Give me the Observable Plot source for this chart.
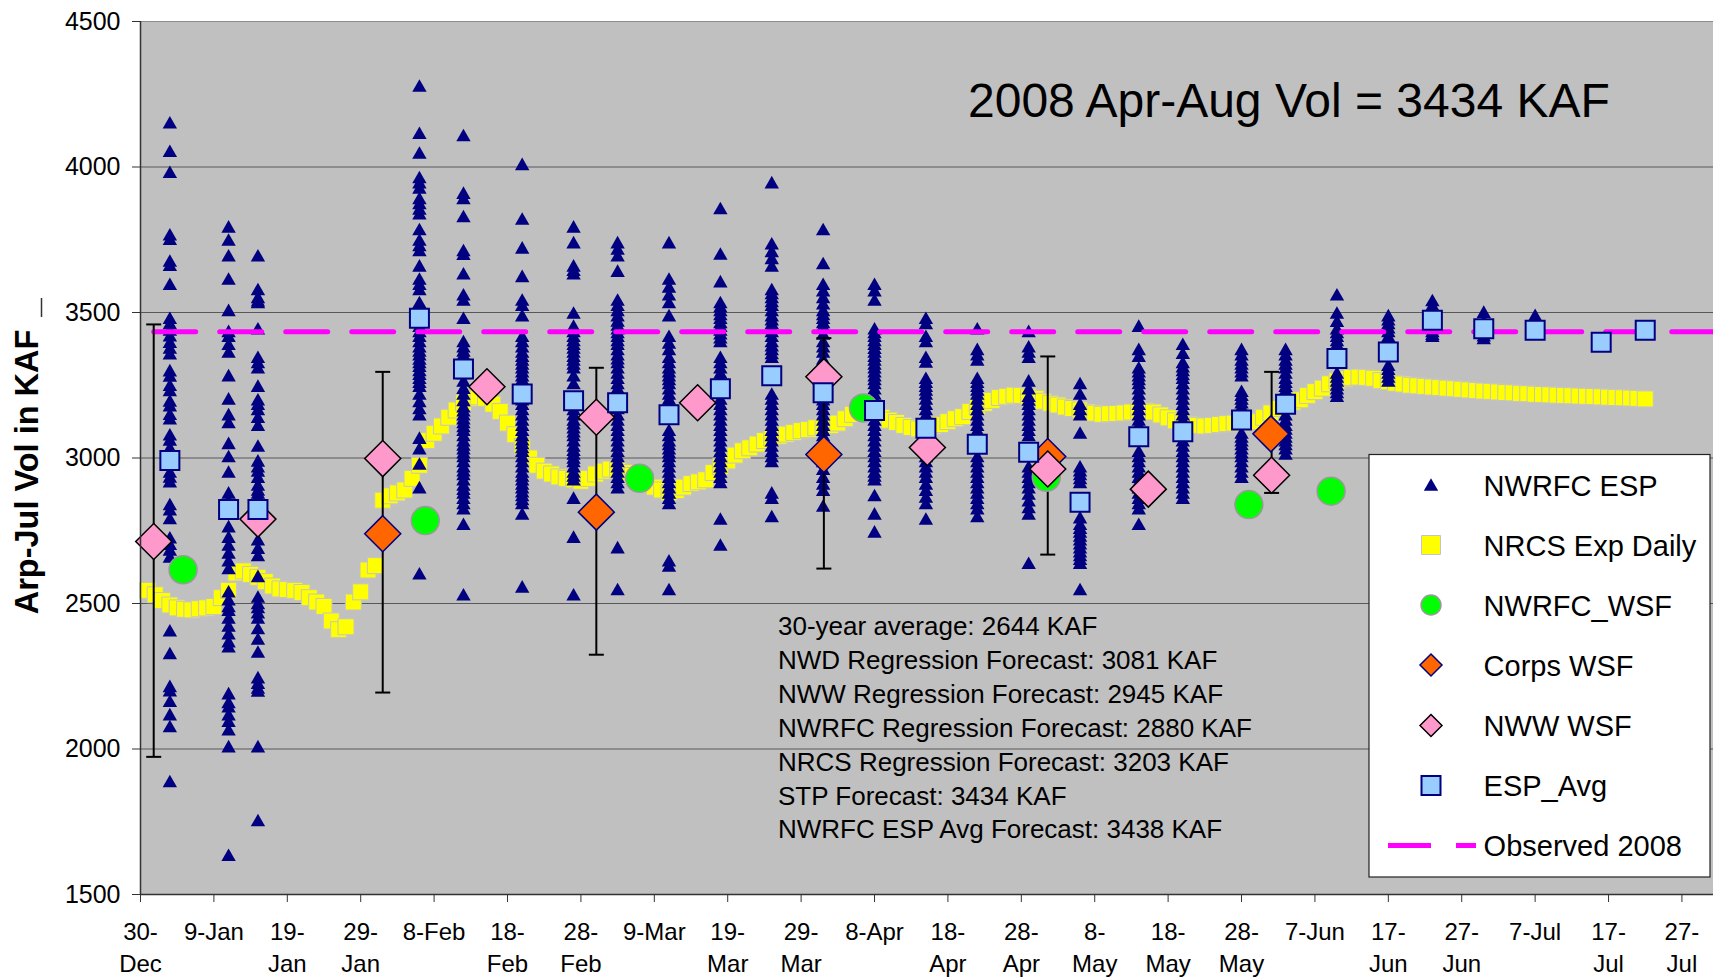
<!DOCTYPE html>
<html><head><meta charset="utf-8">
<script src="https://cdn.jsdelivr.net/npm/d3@7"></script>
<script src="https://cdn.jsdelivr.net/npm/@observablehq/plot@0.6"></script>
<style>body{margin:0;background:#fff;} #chart{width:1713px;height:979px;}</style>
</head><body><div id="chart"></div>
<script>
const FONT = "'Liberation Sans', Arial, Helvetica, sans-serif";

// ---- axis data ----
const tickDays = [0,10,20,30,40,50,60,70,80,90,100,110,120,130,140,150,160,170,180,190,200,210];
const tickLabels = ["30-\nDec","9-Jan","19-\nJan","29-\nJan","8-Feb","18-\nFeb","28-\nFeb","9-Mar","19-\nMar","29-\nMar","8-Apr","18-\nApr","28-\nApr","8-\nMay","18-\nMay","28-\nMay","7-Jun","17-\nJun","27-\nJun","7-Jul","17-\nJul","27-\nJul"];
const yTicks = [1500,2000,2500,3000,3500,4000,4500];
const xDomainEnd = 214.3; // days after 30-Dec-2007

// ---- NWRFC ESP ensemble traces (day offset from 30-Dec) ----
const espDays = [4,12,16,38,44,52,59,65,72,79,86,93,100,107,114,121,128,136,142,150,156,163,170,176,183,190];
const espValues = [
 [4152,4054,3982,3767,3752,3677,3662,3597,3480,3462,3440,3420,3398,3378,3358,3300,3282,3250,3232,3196,3180,3150,3135,3080,3062,3035,3015,2978,2952,2935,2918,2840,2822,2792,2726,2704,2684,2660,2406,2328,2215,2200,2164,2118,2077,1888],
 [3794,3749,3695,3615,3507,3435,3418,3391,3364,3283,3203,3149,3122,3050,3005,2952,2880,2853,2822,2764,2728,2701,2674,2647,2620,2540,2513,2490,2477,2450,2423,2396,2369,2351,2190,2160,2145,2118,2095,2066,2008,1635],
 [3695,3579,3552,3540,3534,3444,3346,3328,3310,3247,3200,3185,3167,3140,3113,3041,2990,2970,2955,2934,2907,2890,2880,2868,2808,2719,2690,2665,2593,2522,2500,2486,2468,2450,2414,2378,2333,2245,2226,2210,2199,2008,1754],
 [4278,4116,4048,3964,3946,3928,3892,3875,3856,3839,3785,3749,3730,3713,3660,3615,3597,3579,3534,3510,3471,3453,3435,3418,3400,3382,3368,3355,3340,3328,3315,3301,3288,3274,3260,3247,3220,3194,3170,3149,3068,3032,2979,2898,2602],
 [4108,3910,3892,3830,3713,3700,3633,3561,3543,3480,3400,3382,3368,3355,3340,3310,3290,3265,3240,3220,3198,3176,3162,3149,3135,3122,3108,3095,3077,3059,3045,3032,3018,3005,2988,2970,2956,2943,2925,2907,2893,2880,2862,2844,2826,2772,2530],
 [4009,3821,3722,3624,3543,3525,3489,3418,3400,3382,3364,3350,3337,3323,3310,3296,3283,3270,3256,3240,3200,3185,3167,3149,3131,3113,3095,3077,3063,3050,3036,3023,3005,2988,2970,2952,2938,2925,2911,2898,2884,2871,2857,2844,2808,2557],
 [3794,3740,3660,3645,3633,3498,3453,3435,3418,3404,3391,3378,3364,3350,3337,3323,3310,3283,3256,3167,3149,3131,3118,3104,3090,3077,3059,3041,3027,3014,3000,2988,2970,2952,2938,2925,2862,2728,2530],
 [3740,3718,3695,3642,3543,3525,3507,3489,3471,3457,3444,3431,3418,3404,3391,3373,3355,3341,3328,3310,3292,3274,3256,3240,3225,3170,3149,3131,3113,3095,3077,3059,3041,3023,3005,2988,2970,2952,2934,2916,2898,2692,2548],
 [3740,3615,3588,3561,3534,3489,3418,3395,3373,3346,3328,3310,3296,3283,3270,3256,3238,3220,3203,3185,3095,3077,3059,3046,3032,3018,3005,2988,2970,2952,2934,2916,2898,2880,2862,2844,2647,2629,2548],
 [3857,3701,3606,3534,3520,3507,3493,3480,3466,3453,3440,3427,3413,3400,3346,3328,3310,3292,3274,3256,3203,3185,3167,3149,3131,3113,3095,3077,3059,3041,3023,3005,2988,2970,2952,2934,2916,2790,2701],
 [3946,3736,3710,3686,3660,3579,3565,3552,3538,3525,3507,3489,3475,3462,3448,3435,3418,3400,3386,3373,3359,3346,3220,3203,3185,3167,3149,3131,3113,3095,3077,3059,3041,3023,3005,2988,2880,2862,2799],
 [3785,3668,3597,3575,3552,3530,3507,3493,3480,3466,3453,3426,3400,3382,3364,3340,3300,3260,3200,3185,3167,3149,3131,3113,3095,3077,3059,3041,3023,3005,2988,2961,2934,2911,2889,2835],
 [3597,3575,3543,3444,3431,3418,3404,3391,3377,3364,3350,3337,3323,3310,3296,3283,3270,3256,3238,3220,3203,3185,3149,3131,3113,3095,3077,3059,3041,3023,3005,2988,2970,2952,2938,2925,2871,2808,2746],
 [3480,3462,3418,3400,3346,3330,3274,3260,3247,3234,3220,3203,3185,3167,3149,3131,3077,3059,3041,3023,3005,2988,2970,2952,2934,2911,2889,2866,2844,2790],
 [3444,3373,3355,3337,3274,3260,3247,3234,3220,3203,3185,3167,3149,3131,3113,3095,3005,2988,2970,2952,2934,2916,2898,2880,2862,2844,2826,2799],
 [3435,3382,3364,3346,3265,3238,3212,3199,3185,3167,3149,3131,3113,3095,3077,2970,2952,2934,2916,2898,2876,2853,2830,2808,2638],
 [3256,3220,3185,3167,3149,3086,2970,2956,2943,2930,2916,2795,2772,2759,2746,2732,2719,2705,2692,2678,2665,2652,2638,2548],
 [3453,3373,3350,3310,3296,3283,3270,3256,3238,3220,3203,3185,3167,3149,3131,3113,3023,3005,2988,2970,2952,2934,2916,2898,2880,2862,2844,2826,2772],
 [3391,3360,3328,3314,3301,3287,3274,3256,3238,3220,3203,3185,3167,3149,3131,3059,3041,3023,3005,2988,2970,2952,2934,2916,2898,2880,2862],
 [3373,3355,3337,3323,3310,3296,3283,3229,3216,3203,3190,3176,3160,3086,3072,3059,3046,3032,3018,3005,2988,2970,2952,2934],
 [3373,3355,3337,3323,3310,3292,3274,3260,3247,3234,3220,3203,3149,3131,3113,3100,3086,3072,3059,3046,3032,3014],
 [3561,3498,3470,3444,3431,3418,3404,3391,3377,3360,3292,3278,3265,3251,3238,3225,3212],
 [3489,3475,3462,3448,3435,3418,3400,3385,3319,3305,3292,3278,3265],
 [3541,3525,3510,3490,3460,3445,3435,3425,3418],
 [3501,3470,3450,3430,3420,3411],
 [3490,3465,3445,3430]
];

// ---- NRCS Exp Daily (daily, starting day 1) ----
const nrcsStartDay = 1;
const nrcsValues = [
 2545,2530,2510,2495,2485,2480,2478,2482,2485,2490,
 2520,2545,2605,2612,2600,2590,2575,2560,2550,2548,
 2545,2538,2520,2505,2490,2440,2410,2420,2505,2540,
 2615,2630,2855,2870,2880,2890,2930,2975,3060,3085,
 3110,3140,3165,3190,3205,3210,3205,3185,3160,3120,
 3080,3040,3000,2975,2955,2945,2935,2930,2925,2920,
 2930,2945,2955,2962,2958,2950,2940,2925,2910,2900,
 2890,2880,2888,2900,2912,2918,2925,2950,2970,2990,
 3010,3025,3035,3048,3060,3068,3075,3082,3088,3094,
 3098,3104,3108,3112,3120,3135,3150,3168,3170,3160,
 3140,3130,3122,3112,3105,3100,3104,3110,3115,3125,
 3135,3142,3160,3175,3188,3198,3208,3212,3216,3215,
 3210,3205,3195,3188,3182,3175,3170,3165,3158,3154,
 3150,3152,3153,3155,3158,3160,3162,3158,3148,3138,
 3128,3122,3116,3112,3110,3112,3115,3118,3120,3120,
 3122,3125,3140,3155,3170,3180,3192,3200,3215,3228,
 3240,3255,3265,3272,3277,3278,3277,3274,3266,3262,
 3257,3254,3250,3248,3246,3244,3242,3240,3238,3236,
 3234,3232,3230,3229,3227,3225,3224,3222,3221,3219,
 3218,3217,3216,3215,3214,3213,3212,3211,3210,3209,
 3208,3207,3206,3205,3203
];

// ---- NWRFC_WSF ----
const wsfDays = [5.8,38.8,68,98.5,123.4,151,162.2];
const wsfValues = [2616,2785,2930,3172,2934,2840,2886];
// ---- Corps WSF ----
const corpsDays = [33,62.1,93.1,123.6,154];
const corpsValues = [2740,2814,3012,3005,3083];
// ---- NWW WSF (with error bars) ----
const nwwDays = [1.8,16,33,47.2,62.1,75.9,93.1,107.2,123.6,137.3,154.1];
const nwwValues = [2713,2790,2998,3245,3140,3190,3279,3036,2962,2893,2941];
const errDays = [1.8,33,62.1,93.1,123.6,154.1];
const errLow = [1973,2194,2324,2620,2668,2880];
const errHigh = [3459,3296,3310,3412,3349,3296];
// ---- ESP_Avg ----
const espAvgDays = [4,12,16,38,44,52,59,65,72,79,86,93,100,107,114,121,128,136,142,150,156,163,170,176,183,190,199,205];
const espAvgValues = [2991,2823,2823,3480,3306,3220,3197,3190,3149,3238,3283,3224,3163,3102,3047,3020,2848,3073,3090,3131,3185,3342,3364,3473,3444,3439,3398,3439];
// ---- Observed 2008 ----
const observedValue = 3434;
const observedStartDay = 1.8;

const legendLabels = ["NWRFC ESP","NRCS Exp Daily","NWRFC_WSF","Corps WSF","NWW WSF","ESP_Avg","Observed 2008"];
const titleText = "2008 Apr-Aug Vol = 3434 KAF";
const noteLines = ["30-year average: 2644 KAF","NWD Regression Forecast: 3081 KAF","NWW Regression Forecast: 2945 KAF","NWRFC Regression Forecast: 2880 KAF","NRCS Regression Forecast: 3203 KAF","STP Forecast: 3434 KAF","NWRFC ESP Avg Forecast: 3438 KAF"];
const yLabel = "Arp-Jul Vol in KAF";

// ---- tables ----
const esp = espValues.flatMap((vals, i) => vals.map(v => ({day: espDays[i], v})));
const nrcs = nrcsValues.map((v, i) => ({day: nrcsStartDay + i, v}));
const wsf = wsfDays.map((d, i) => ({day: d, v: wsfValues[i]}));
const corps = corpsDays.map((d, i) => ({day: d, v: corpsValues[i]}));
const nww = nwwDays.map((d, i) => ({day: d, v: nwwValues[i]}));
const errs = errDays.map((d, i) => ({day: d, lo: errLow[i], hi: errHigh[i]}));
const espAvg = espAvgDays.map((d, i) => ({day: d, v: espAvgValues[i]}));
const observed = [{day: observedStartDay, v: observedValue}, {day: xDomainEnd, v: observedValue}];

// ---- symbols ----
const triSym = {draw(c, s){ const r = Math.sqrt(s/Math.PI); c.moveTo(0,-0.95*r); c.lineTo(r,0.8*r); c.lineTo(-r,0.8*r); c.closePath(); }};
const sqSym = {draw(c, s){ const r = Math.sqrt(s/Math.PI); c.moveTo(-r,-r); c.lineTo(r,-r); c.lineTo(r,r); c.lineTo(-r,r); c.closePath(); }};
const diaSym = {draw(c, s){ const r = Math.sqrt(s/Math.PI); c.moveTo(0,-r); c.lineTo(r,0); c.lineTo(0,r); c.lineTo(-r,0); c.closePath(); }};
const capSym = {draw(c, s){ const r = Math.sqrt(s/Math.PI); c.moveTo(-r,0); c.lineTo(r,0); }};

const ST = {
  tri: {fill: "#000080", stroke: "none", r: 7.2},
  nrcs: {fill: "#FFFF00", stroke: "#c4c4c4", strokeWidth: 1, r: 8},
  wsf: {fill: "#00FF00", stroke: "#9a9a9a", strokeWidth: 1.5, r: 14},
  corps: {fill: "#FF6600", stroke: "#000080", strokeWidth: 1.5, r: 18},
  nww: {fill: "#FF99CC", stroke: "#000000", strokeWidth: 1.5, r: 18},
  avg: {fill: "#99CCFF", stroke: "#000080", strokeWidth: 2, r: 9.5}
};

const chart = Plot.plot({
  width: 1713, height: 979,
  marginLeft: 140, marginRight: 0, marginTop: 21, marginBottom: 85,
  style: {fontFamily: FONT, background: "#fff", color: "#000", overflow: "visible"},
  x: {domain: [0, xDomainEnd], axis: null},
  y: {domain: [1500, 4500], axis: null},
  marks: [
    Plot.frame({fill: "#c0c0c0", stroke: null}),
    Plot.ruleY(yTicks.slice(1, -1), {stroke: "#585858", strokeWidth: 1.2}),
    Plot.ruleY([4500], {stroke: "#8c8c8c", strokeWidth: 1.2}),
    Plot.dot(nrcs, {x: "day", y: "v", symbol: sqSym, ...ST.nrcs}),
    Plot.dot(esp, {x: "day", y: "v", symbol: triSym, ...ST.tri}),
    Plot.line(observed, {x: "day", y: "v", stroke: "#FF00FF", strokeWidth: 5, strokeDasharray: "42,24"}),
    Plot.ruleX(errs, {x: "day", y1: "lo", y2: "hi", stroke: "#000", strokeWidth: 2}),
    Plot.dot(errs, {x: "day", y: "lo", symbol: capSym, r: 7.5, stroke: "#000", strokeWidth: 2, fill: "none"}),
    Plot.dot(errs, {x: "day", y: "hi", symbol: capSym, r: 7.5, stroke: "#000", strokeWidth: 2, fill: "none"}),
    Plot.dot(wsf, {x: "day", y: "v", symbol: "circle", ...ST.wsf}),
    Plot.dot(corps, {x: "day", y: "v", symbol: diaSym, ...ST.corps}),
    Plot.dot(nww, {x: "day", y: "v", symbol: diaSym, ...ST.nww}),
    Plot.dot(espAvg, {x: "day", y: "v", symbol: sqSym, ...ST.avg}),
    Plot.ruleX([0], {stroke: "#333", strokeWidth: 1.5}),
    Plot.ruleY([1500], {stroke: "#333", strokeWidth: 1.5}),
    Plot.axisX({ticks: tickDays, tickFormat: d => tickLabels[tickDays.indexOf(d)], tickSize: 8, tickPadding: 15, fontSize: 24, lineHeight: 1.34, stroke: "#333", label: null}),
    Plot.axisY({ticks: yTicks, tickFormat: d => String(d), tickSize: 8, tickPadding: 12, fontSize: 25, stroke: "#333", label: null})
  ]
});

document.getElementById("chart").appendChild(chart);
const svg = d3.select(chart);

// title inside plot
svg.append("text").attr("x", 968).attr("y", 117).attr("text-anchor", "start").attr("font-family", FONT).attr("font-size", 48).attr("fill", "#000").text(titleText);

// notes block
const notes = svg.append("g").attr("text-anchor", "start").attr("font-family", FONT).attr("font-size", 26).attr("fill", "#000");
noteLines.forEach((t, i) => notes.append("text").attr("x", 778).attr("y", 635 + i * 33.9).text(t));

// y label
svg.append("text").attr("transform", "translate(38,472) rotate(-90)").attr("text-anchor", "middle")
  .attr("font-family", FONT).attr("font-size", 32.5).attr("font-weight", "bold").attr("fill", "#000").text(yLabel);
svg.append("line").attr("x1", 41.5).attr("x2", 41.5).attr("y1", 298).attr("y2", 317).attr("stroke", "#333").attr("stroke-width", 1.5);

// legend
const lg = svg.append("g").attr("text-anchor", "start");
lg.append("rect").attr("x", 1369).attr("y", 454.5).attr("width", 341).attr("height", 422.5).attr("fill", "#fff").attr("stroke", "#222").attr("stroke-width", 1.2);
const rows = [485, 545, 605, 665, 725.5, 785.5, 845.6];
const symPath = (sym, r) => { const p = d3.path(); sym.draw(p, r * r * Math.PI); return p.toString(); };
const legSyms = [[triSym, ST.tri], [sqSym, ST.nrcs], [null, ST.wsf], [diaSym, {...ST.corps, r: 11}], [diaSym, {...ST.nww, r: 11}], [sqSym, ST.avg]];
legSyms.forEach(([sym, st], i) => {
  let r = st.r;
  if (i === 2) r = 10;
  if (i === 1) r = 9.5;
  const el = sym ? lg.append("path").attr("d", symPath(sym, r)) : lg.append("circle").attr("r", r);
  el.attr("transform", `translate(1431,${rows[i]})`).attr("fill", st.fill).attr("stroke", st.stroke).attr("stroke-width", st.strokeWidth || 0);
});
lg.append("line").attr("x1", 1388).attr("x2", 1476).attr("y1", rows[6]).attr("y2", rows[6]).attr("stroke", "#FF00FF").attr("stroke-width", 5).attr("stroke-dasharray", "43,25");
legendLabels.forEach((t, i) => lg.append("text").attr("x", 1483.6).attr("y", rows[i] + 10.5).attr("font-family", FONT).attr("font-size", 29).attr("fill", "#000").text(t));
</script></body></html>
